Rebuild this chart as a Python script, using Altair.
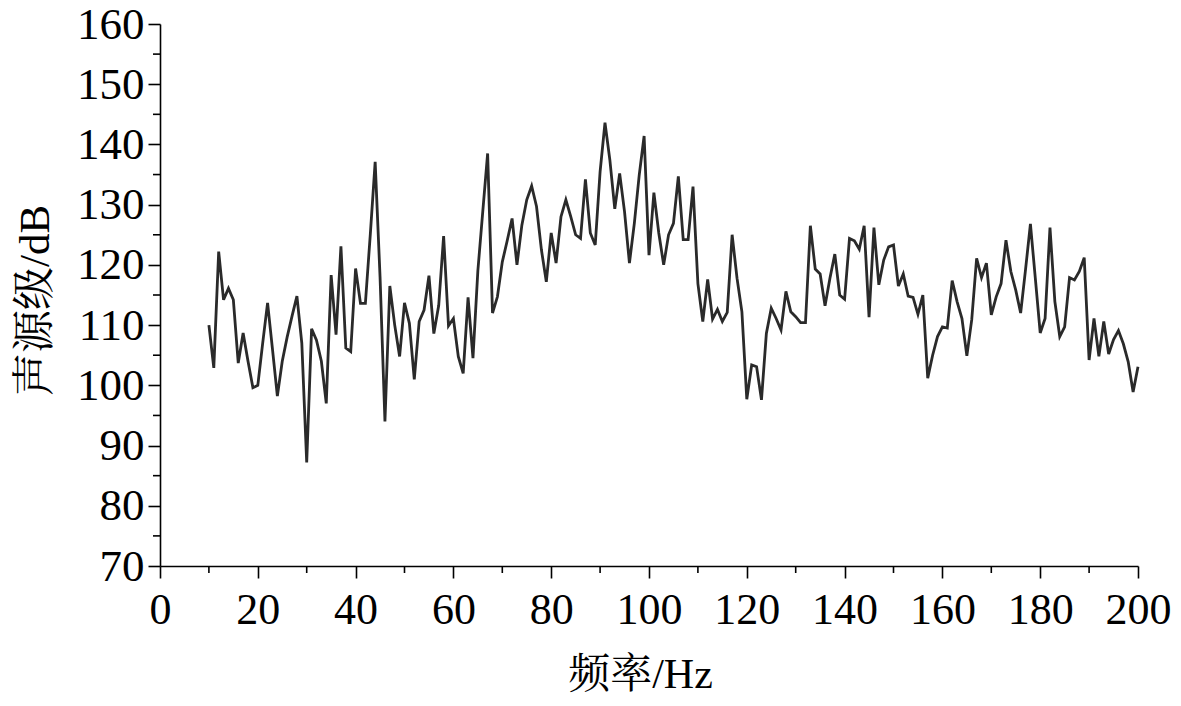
import altair as alt
import pandas as pd

freq = list(range(10, 201))
level = [
    110.0, 102.9, 122.2, 114.2, 116.1, 114.2, 103.7, 108.7, 104.0, 99.6,
    100.0, 107.0, 113.7, 106.0, 98.2, 104.0, 108.0, 111.5, 114.8, 107.0,
    87.2, 109.4, 107.5, 104.0, 97.0, 118.3, 108.4, 123.1, 106.2, 105.6,
    119.4, 113.6, 113.6, 125.0, 137.1, 118.0, 94.0, 116.5, 110.0, 104.8,
    113.7, 110.3, 101.0, 110.6, 112.5, 118.2, 108.6, 113.3, 124.8, 109.9,
    111.1, 104.8, 102.0, 114.6, 104.5, 119.0, 128.8, 138.5, 112.0, 114.7,
    120.5, 124.0, 127.7, 120.0, 126.6, 130.8, 133.1, 129.7, 122.5, 117.2,
    125.3, 120.3, 128.0, 130.8, 128.0, 125.0, 124.4, 134.2, 125.3, 123.3,
    135.5, 143.6, 137.4, 129.3, 135.2, 128.8, 120.3, 126.9, 134.9, 141.4,
    121.6, 132.0, 125.3, 120.0, 125.0, 126.9, 134.7, 124.2, 124.2, 133.0,
    116.9, 110.6, 117.6, 111.0, 112.6, 110.6, 112.1, 125.0, 117.8, 112.2,
    97.7, 103.4, 103.1, 97.6, 108.6, 112.8, 111.1, 109.2, 115.6, 112.2,
    111.4, 110.4, 110.4, 126.5, 119.3, 118.5, 113.2, 117.8, 121.8, 115.0,
    114.3, 124.4, 124.0, 122.6, 126.5, 111.3, 126.2, 116.7, 120.8, 123.0,
    123.3, 116.5, 118.5, 114.8, 114.6, 111.8, 115.0, 101.2, 105.0, 108.1,
    109.7, 109.5, 117.4, 113.9, 111.1, 104.9, 110.9, 121.1, 117.9, 120.3,
    111.7, 114.7, 116.9, 124.1, 118.9, 115.8, 112.0, 119.2, 126.8, 117.8,
    108.7, 111.1, 126.2, 113.9, 108.1, 109.7, 117.9, 117.5, 118.9, 121.2,
    104.2, 111.1, 104.8, 110.6, 105.2, 107.6, 109.1, 106.9, 103.9, 98.9,
    103.1,
]

x_major = list(range(0, 201, 20))
x_minor = list(range(10, 200, 20))
y_major = list(range(70, 161, 10))
y_minor = list(range(75, 160, 10))

df = pd.DataFrame({"f": freq, "L": level})
xs = alt.Scale(domain=[0, 200], nice=False, zero=False)
ys = alt.Scale(domain=[70, 160], nice=False, zero=False)

W, H = 978, 542
font = "Liberation Serif"
cjk = "Liberation Serif, Noto Serif CJK SC, Noto Sans CJK SC"

xaxis = alt.Axis(
    values=x_major, title="频率/Hz", format="d", grid=False,
    domainColor="black", domainWidth=1.6, tickColor="black", tickWidth=1.6,
    tickSize=12, labelFont=font, labelFontSize=44, labelColor="black",
    labelPadding=10, labelFlush=False, labelOverlap=False,
    titleFont=cjk, titleFontSize=42, titleFontWeight="normal", titleColor="black",
    titleX=480, titleY=108, titleBaseline="middle", titleAlign="center")
yaxis = alt.Axis(
    values=y_major, title="声源级/dB", format="d", grid=False,
    domainColor="black", domainWidth=1.6, tickColor="black", tickWidth=1.6,
    tickSize=12, labelFont=font, labelFontSize=45, labelColor="black",
    labelPadding=4, labelFlush=False, labelOverlap=False,
    titleFont=cjk, titleFontSize=43, titleFontWeight="normal", titleColor="black",
    titleX=-125, titleY=276, titleAngle=270, titleBaseline="middle",
    titleAlign="center")

line = alt.Chart(df).mark_line(color="#2a2a2a", strokeWidth=2.8).encode(
    x=alt.X("f:Q", scale=xs, axis=xaxis),
    y=alt.Y("L:Q", scale=ys, axis=yaxis),
)

xminor = alt.Chart(pd.DataFrame({"v": x_minor})).mark_rule(
    color="black", strokeWidth=1.6).encode(
    x=alt.X("v:Q", scale=xs),
    y=alt.value(H), y2=alt.value(H + 7))

yminor = alt.Chart(pd.DataFrame({"v": y_minor})).mark_rule(
    color="black", strokeWidth=1.6).encode(
    y=alt.Y("v:Q", scale=ys),
    x=alt.value(-7), x2=alt.value(0))

chart = alt.layer(line, xminor, yminor).properties(
    width=W, height=H,
    autosize=alt.AutoSizeParams(type="none"),
    padding={"left": 152, "top": 16, "right": 35, "bottom": 136},
).configure_view(stroke=None)

chart.save("out.html", embed_options={"renderer": "svg", "actions": False})
